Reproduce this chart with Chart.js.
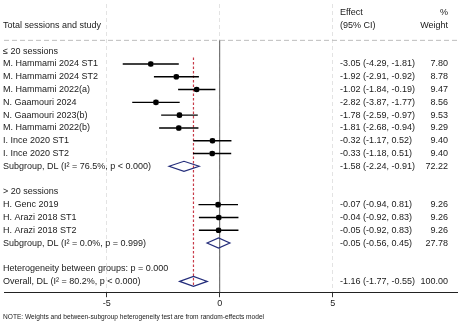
<!DOCTYPE html>
<html>
<head>
<meta charset="utf-8">
<script src="https://cdn.jsdelivr.net/npm/chart.js@4/dist/chart.umd.min.js"></script>
<style>
  html, body { margin: 0; padding: 0; background: #fff; }
  #wrap { width: 461px; height: 323px; }
</style>
</head>
<body>
<div id="wrap"><canvas id="forest"></canvas></div>
<script>
// <= 20 sessions
const lowStudies = ["M. Hammami 2024 ST1", "M. Hammami 2024 ST2", "M. Hammami 2022(a)", "N. Gaamouri 2024",
    "N. Gaamouri 2023(b)", "M. Hammami 2022(b)", "I. Ince 2020 ST1", "I. Ince 2020 ST2"];
const lowEffect = [-3.05, -1.92, -1.02, -2.82, -1.78, -1.81, -0.32, -0.33];
const lowLower = [-4.29, -2.91, -1.84, -3.87, -2.59, -2.68, -1.17, -1.18];
const lowUpper = [-1.81, -0.92, -0.19, -1.77, -0.97, -0.94, 0.52, 0.51];
const lowWeight = [7.80, 8.78, 9.47, 8.56, 9.53, 9.29, 9.40, 9.40];

// > 20 sessions
const highStudies = ["H. Genc 2019", "H. Arazi 2018 ST1", "H. Arazi 2018 ST2"];
const highEffect = [-0.07, -0.04, -0.05];
const highLower = [-0.94, -0.92, -0.92];
const highUpper = [0.81, 0.83, 0.83];
const highWeight = [9.26, 9.26, 9.26];

// pooled: subgroup 1, subgroup 2, overall
const pooledLabels = ["Subgroup, DL (I\u00B2 = 76.5%, p < 0.000)", "Subgroup, DL (I\u00B2 = 0.0%, p = 0.999)",
    "Overall, DL (I\u00B2 = 80.2%, p < 0.000)"];
const pooledEffect = [-1.58, -0.05, -1.16];
const pooledLower = [-2.24, -0.56, -1.77];
const pooledUpper = [-0.91, 0.45, -0.55];
const pooledWeight = [72.22, 27.78, 100.00];

const groupLabels = ["\u2264 20 sessions", "> 20 sessions"];
const heterogeneityText = "Heterogeneity between groups: p = 0.000";
const noteText = "NOTE: Weights and between-subgroup heterogeneity test are from random-effects model";
const tickValues = [-5, 0, 5];

const FONT = '"Liberation Sans", Arial, sans-serif';
const TEXT = "#1a1a1a";

// build rows (row index goes down the plot)
const studyRows = [];
const pooledRows = [];
const textRows = [];
let row = 0;
textRows.push({ row: row++, label: groupLabels[0] });
lowStudies.forEach((name, i) => {
    studyRows.push({ row, est: lowEffect[i], lo: lowLower[i], hi: lowUpper[i] });
    textRows.push({ row: row++, label: name, est: lowEffect[i], lo: lowLower[i], hi: lowUpper[i], w: lowWeight[i] });
});
pooledRows.push({ row, est: pooledEffect[0], lo: pooledLower[0], hi: pooledUpper[0] });
textRows.push({ row: row++, label: pooledLabels[0], est: pooledEffect[0], lo: pooledLower[0], hi: pooledUpper[0], w: pooledWeight[0] });
row++;
textRows.push({ row: row++, label: groupLabels[1] });
highStudies.forEach((name, i) => {
    studyRows.push({ row, est: highEffect[i], lo: highLower[i], hi: highUpper[i] });
    textRows.push({ row: row++, label: name, est: highEffect[i], lo: highLower[i], hi: highUpper[i], w: highWeight[i] });
});
pooledRows.push({ row, est: pooledEffect[1], lo: pooledLower[1], hi: pooledUpper[1] });
textRows.push({ row: row++, label: pooledLabels[1], est: pooledEffect[1], lo: pooledLower[1], hi: pooledUpper[1], w: pooledWeight[1] });
row++;
textRows.push({ row: row++, label: heterogeneityText });
pooledRows.push({ row, est: pooledEffect[2], lo: pooledLower[2], hi: pooledUpper[2] });
textRows.push({ row: row++, label: pooledLabels[2], est: pooledEffect[2], lo: pooledLower[2], hi: pooledUpper[2], w: pooledWeight[2] });
const overallRow = row - 1;

const fmt = (v) => v.toFixed(2);

const forestPlugin = {
    id: "forest",
    beforeDatasetsDraw(chart) {
        const { ctx, chartArea, scales: { x, y } } = chart;
        ctx.save();

        // header separator
        const yHead = y.getPixelForValue(-0.85);
        ctx.strokeStyle = "#bdbdbd";
        ctx.lineWidth = 1;
        ctx.setLineDash([5, 3]);
        ctx.beginPath();
        ctx.moveTo(chartArea.left, yHead);
        ctx.lineTo(chartArea.right, yHead);
        ctx.stroke();

        // no-effect line
        ctx.setLineDash([]);
        ctx.strokeStyle = "#5a5a5a";
        ctx.beginPath();
        ctx.moveTo(x.getPixelForValue(0), yHead);
        ctx.lineTo(x.getPixelForValue(0), chartArea.bottom);
        ctx.stroke();

        // overall effect line
        ctx.strokeStyle = "#c83a48";
        ctx.lineWidth = 1.2;
        ctx.setLineDash([2.5, 2]);
        ctx.beginPath();
        ctx.moveTo(x.getPixelForValue(pooledEffect[2]), y.getPixelForValue(0.5));
        ctx.lineTo(x.getPixelForValue(pooledEffect[2]), y.getPixelForValue(overallRow + 0.4));
        ctx.stroke();

        // confidence intervals
        ctx.setLineDash([]);
        ctx.strokeStyle = "#000";
        ctx.lineWidth = 1.4;
        studyRows.forEach((r) => {
            const py = y.getPixelForValue(r.row);
            ctx.beginPath();
            ctx.moveTo(x.getPixelForValue(r.lo), py);
            ctx.lineTo(x.getPixelForValue(r.hi), py);
            ctx.stroke();
        });

        // pooled diamonds
        ctx.strokeStyle = "#232c7a";
        ctx.lineWidth = 1.2;
        pooledRows.forEach((r) => {
            const py = y.getPixelForValue(r.row);
            ctx.beginPath();
            ctx.moveTo(x.getPixelForValue(r.lo), py);
            ctx.lineTo(x.getPixelForValue(r.est), py - 5);
            ctx.lineTo(x.getPixelForValue(r.hi), py);
            ctx.lineTo(x.getPixelForValue(r.est), py + 5);
            ctx.closePath();
            ctx.stroke();
        });
        ctx.restore();
    },
    afterDraw(chart) {
        const { ctx, scales: { y } } = chart;
        ctx.save();
        ctx.fillStyle = TEXT;
        ctx.font = `9px ${FONT}`;
        ctx.textBaseline = "middle";

        // headers
        ctx.textAlign = "left";
        ctx.fillText("Total sessions and study", 3, y.getPixelForValue(-2));
        ctx.fillText("Effect", 340, y.getPixelForValue(-3));
        ctx.fillText("(95% CI)", 340, y.getPixelForValue(-2));
        ctx.textAlign = "right";
        ctx.fillText("%", 448, y.getPixelForValue(-3));
        ctx.fillText("Weight", 448, y.getPixelForValue(-2));

        textRows.forEach((r) => {
            const py = y.getPixelForValue(r.row);
            ctx.textAlign = "left";
            ctx.fillText(r.label, 3, py);
            if (r.est !== undefined) {
                ctx.fillText(`${fmt(r.est)} (${fmt(r.lo)}, ${fmt(r.hi)})`, 340, py);
                ctx.textAlign = "right";
                ctx.fillText(fmt(r.w), 448, py);
            }
        });

        ctx.textAlign = "left";
        ctx.font = `6.6px ${FONT}`;
        ctx.fillText(noteText, 3, 317);
        ctx.restore();
    },
};

new Chart(document.getElementById("forest"), {
    type: "scatter",
    data: {
        datasets: [
            {
                data: studyRows.map((r) => ({ x: r.est, y: r.row })),
                pointStyle: "circle",
                pointRadius: 2.8,
                backgroundColor: "#000",
                borderWidth: 0,
            },
            {
                data: studyRows.map((r) => ({ x: r.est, y: r.row })),
                pointStyle: "rect",
                pointRadius: 3.6,
                backgroundColor: "#a0a0a0",
                borderWidth: 0,
            },
        ],
    },
    options: {
        responsive: true,
        maintainAspectRatio: false,
        animation: false,
        events: [],
        layout: { padding: { left: 0, right: 0, top: 0, bottom: 13 } },
        plugins: {
            legend: { display: false },
            tooltip: { enabled: false },
        },
        scales: {
            x: {
                type: "linear",
                min: -219.5 / 23,
                max: (461 - 219.5) / 23,
                afterBuildTicks: (scale) => {
                    scale.ticks = tickValues.map((v) => ({ value: v }));
                },
                grid: {
                    color: "#e3e3e3",
                    tickColor: "#333",
                    tickLength: 5,
                    drawOnChartArea: true,
                },
                border: { display: true, color: "#222", width: 1, dash: [4, 3] },
                ticks: {
                    color: TEXT,
                    padding: 1,
                    font: { family: FONT, size: 9 },
                    maxRotation: 0,
                },
            },
            y: {
                type: "linear",
                display: false,
                reverse: true,
                min: -48 / 13,
                max: (293 - 48) / 13,
            },
        },
    },
    plugins: [forestPlugin],
});
</script>
</body>
</html>
